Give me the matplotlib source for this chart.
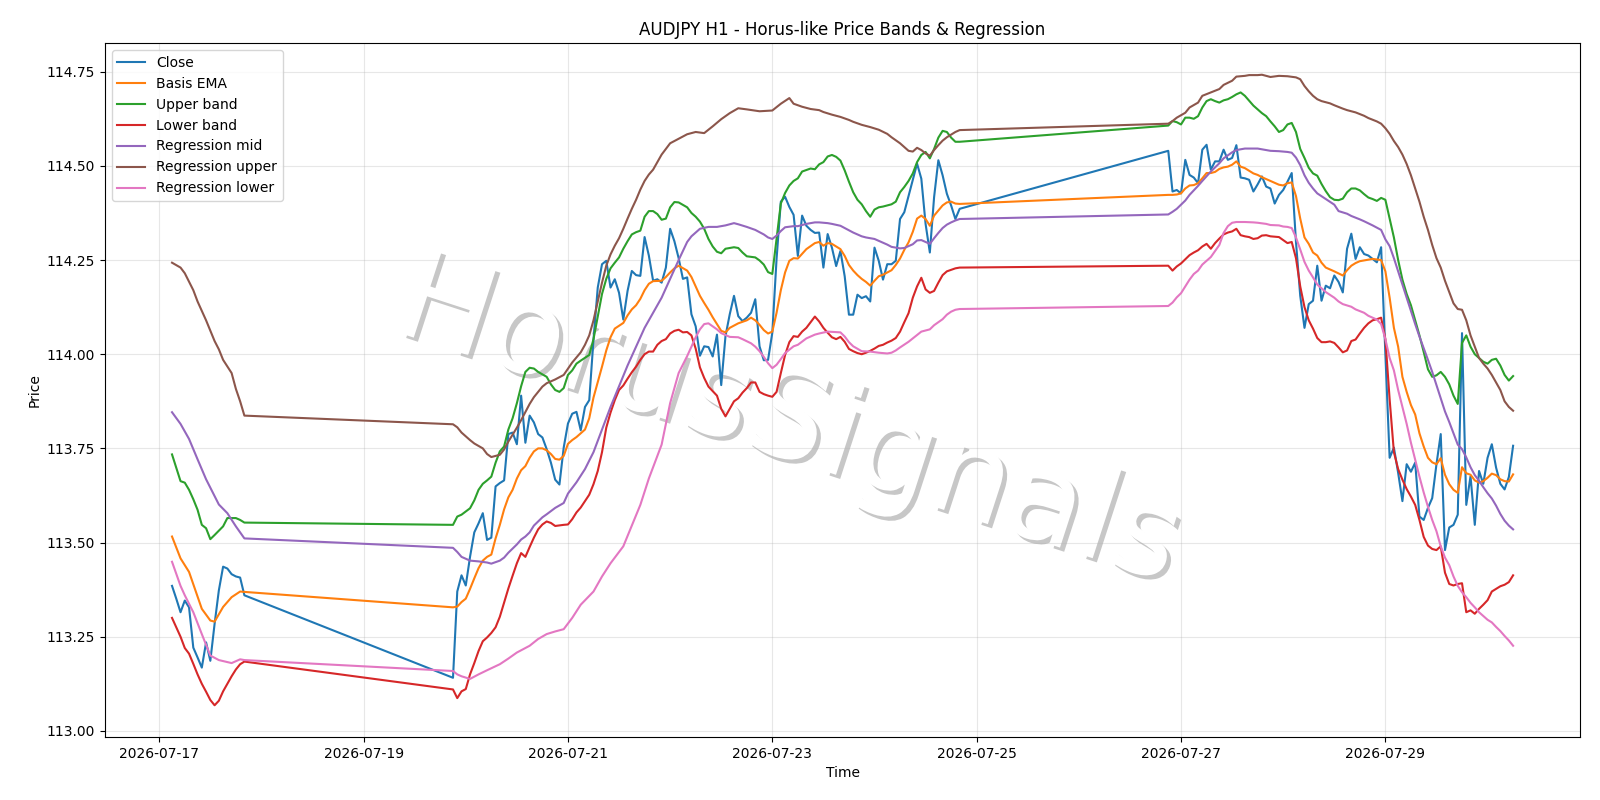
import matplotlib
matplotlib.use("Agg")
import matplotlib.pyplot as plt
import matplotlib.dates as mdates
import matplotlib.patheffects as pe
import pandas as pd

# ---------------- data ----------------
segment_starts = ["2026-07-17 03:00", "2026-07-19 21:00", "2026-07-26 21:00"]

close_seg1 = [113.385, 113.351, 113.315, 113.346, 113.328, 113.221, 113.195, 113.168, 113.235,
              113.186, 113.284, 113.373, 113.436, 113.431, 113.416, 113.410, 113.407, 113.360]

close_seg2 = [113.141, 113.370, 113.413, 113.386, 113.462, 113.527, 113.551, 113.578, 113.507, 113.513,
              113.649, 113.658, 113.665, 113.788, 113.792, 113.761, 113.890, 113.765, 113.837, 113.819,
              113.788, 113.779, 113.748, 113.712, 113.667, 113.654, 113.752, 113.816, 113.842, 113.847,
              113.798, 113.860, 113.878, 114.039, 114.177, 114.239, 114.248, 114.177, 114.199, 114.163,
              114.092, 114.168, 114.221, 114.210, 114.208, 114.311, 114.262, 114.195, 114.199, 114.190,
              114.230, 114.333, 114.300, 114.255, 114.200, 114.204, 114.106, 114.074, 113.996, 114.021,
              114.019, 113.994, 114.052, 113.918, 114.048, 114.106, 114.155, 114.101, 114.088, 114.097,
              114.110, 114.146, 114.021, 113.984, 113.985, 114.057, 114.253, 114.405, 114.418, 114.391,
              114.370, 114.261, 114.368, 114.341, 114.330, 114.322, 114.323, 114.230, 114.319, 114.283,
              114.234, 114.274, 114.207, 114.105, 114.105, 114.158, 114.149, 114.154, 114.140, 114.283,
              114.248, 114.198, 114.239, 114.239, 114.248, 114.359, 114.377, 114.420, 114.462, 114.506,
              114.466, 114.346, 114.270, 114.417, 114.515, 114.475, 114.426, 114.395, 114.359, 114.386]

close_seg3 = [114.540, 114.432, 114.436, 114.427, 114.516, 114.476, 114.469, 114.454, 114.543, 114.556,
              114.490, 114.512, 114.512, 114.543, 114.516, 114.521, 114.555, 114.469, 114.467, 114.463,
              114.432, 114.451, 114.472, 114.445, 114.440, 114.400, 114.423, 114.436, 114.458, 114.481,
              114.298, 114.155, 114.070, 114.133, 114.142, 114.235, 114.142, 114.182, 114.175, 114.209,
              114.192, 114.164, 114.280, 114.320, 114.253, 114.284, 114.266, 114.262, 114.253, 114.244,
              114.284, 114.000, 113.725, 113.752, 113.685, 113.610, 113.708, 113.688, 113.712, 113.569,
              113.560, 113.592, 113.618, 113.708, 113.788, 113.480, 113.540, 113.547, 113.574, 114.056,
              113.600, 113.676, 113.547, 113.690, 113.656, 113.725, 113.761, 113.699, 113.656, 113.641,
              113.674, 113.757]

# smooth series: hour offsets from 2026-07-17 00:00 and values
ema_h = [3, 5, 7, 10, 12, 13, 15, 17, 19, 20,
         69, 70, 71, 72, 73, 74, 75, 76, 77, 78, 79, 80, 81, 82, 83, 84, 85, 86, 87, 88, 89, 90, 91, 92, 93, 94, 95,
         96, 97, 98, 100, 101, 102, 104, 105, 106, 107, 109, 110, 111, 112, 113, 114, 115, 116, 118, 119, 120, 121, 122,
         124, 125, 126, 127, 128, 129, 130, 131, 132, 133, 134, 136, 138, 139, 140, 141, 142, 143, 144, 145, 146, 147,
         148, 149, 150, 152, 154, 155, 156, 157, 158, 160, 161, 162, 163, 164, 165, 166, 167, 168, 169, 170, 171, 172,
         173, 174, 175, 176, 177, 178, 179, 180, 181, 182, 184, 185, 186, 187, 188,
         237, 238, 239, 240, 241, 242, 243, 244, 245, 246, 247, 248, 249, 250, 251, 252, 253, 254, 255, 256, 257, 258,
         259, 260, 261, 262, 263, 264, 265, 266, 267, 268, 269, 270, 271, 272, 273, 274, 276, 278, 279, 280, 281, 282,
         284, 285, 287, 288, 289, 290, 291, 292, 293, 294, 295, 296, 297, 298, 299, 300, 301, 302, 303, 304, 305, 306,
         307, 308, 309, 310, 311, 312, 313, 314, 315, 316, 317, 318]
ema_v = [113.516, 113.458, 113.422, 113.324, 113.293, 113.290, 113.329, 113.355, 113.370, 113.369,
         113.328, 113.330, 113.342, 113.351, 113.377, 113.405, 113.432, 113.452, 113.462, 113.468, 113.511, 113.547,
         113.588, 113.620, 113.640, 113.670, 113.692, 113.703, 113.725, 113.742, 113.750, 113.750, 113.745, 113.735,
         113.722, 113.720, 113.730,
         113.762, 113.772, 113.780, 113.800, 113.830, 113.885, 113.967, 114.010, 114.045, 114.068, 114.083, 114.103,
         114.119, 114.130, 114.147, 114.170, 114.187, 114.194, 114.195, 114.205, 114.217, 114.228, 114.235,
         114.222, 114.205, 114.180, 114.155, 114.136, 114.118, 114.098, 114.080, 114.062, 114.058, 114.070, 114.082,
         114.090, 114.097, 114.090, 114.078, 114.064, 114.055, 114.060, 114.110, 114.170, 114.217,
         114.248, 114.255, 114.254, 114.279, 114.295, 114.298, 114.288, 114.295, 114.293, 114.279, 114.261, 114.237,
         114.222, 114.210, 114.200, 114.192, 114.182, 114.195, 114.207, 114.211, 114.217, 114.223,
         114.237, 114.254, 114.277, 114.297, 114.325, 114.360, 114.368, 114.359, 114.341, 114.368, 114.395, 114.403,
         114.405, 114.400, 114.399,
         114.423, 114.423, 114.424, 114.427, 114.440, 114.448, 114.449, 114.454, 114.467, 114.481, 114.481, 114.484,
         114.492, 114.496, 114.498, 114.503, 114.512, 114.498, 114.494, 114.487, 114.480, 114.476,
         114.470, 114.465, 114.460, 114.455, 114.450, 114.448, 114.454, 114.456, 114.420, 114.360, 114.310, 114.293,
         114.270, 114.262, 114.243, 114.230, 114.220, 114.209, 114.223, 114.235, 114.242, 114.247,
         114.251, 114.253, 114.250, 114.220, 114.150, 114.070, 114.020, 113.940, 113.900, 113.865, 113.840, 113.790,
         113.755, 113.725, 113.713, 113.708, 113.724, 113.680, 113.655, 113.640, 113.632, 113.700,
         113.684, 113.680, 113.665, 113.659, 113.663, 113.672, 113.683, 113.679, 113.668, 113.663, 113.662, 113.681]

upper_h = [3, 5, 6, 7, 8, 9, 10, 11, 12, 13, 15, 16, 18, 19, 20,
           69, 70, 71, 73, 74, 75, 76, 77, 78, 79, 80, 81, 82, 83, 84, 85, 86, 87, 88, 89, 91, 92, 93, 94,
           95, 96, 97, 98, 99, 101, 102, 103, 104, 105, 106, 107, 108, 109, 110, 111, 112, 113, 114, 115, 116, 117,
           118, 119, 120, 121, 122, 124, 125, 126, 127, 128, 129, 130, 131, 132, 133, 135, 136, 137, 138, 140, 141,
           142, 143, 144, 145, 146, 147, 148, 149, 150, 151, 153, 154, 155, 156, 157, 158, 159, 160, 161, 162, 163,
           164, 165, 166, 167, 168, 169, 170, 172, 173, 174, 175, 176, 177, 178, 179, 180, 181, 182, 183, 184, 185,
           186, 187, 188,
           237, 238, 239, 240, 241, 242, 243, 244, 245, 246, 247, 248, 249, 250, 251, 252, 253, 254, 255, 256, 257,
           258, 259, 260, 261, 262, 263, 264, 265, 266, 267, 268, 269, 270, 271, 272, 273, 274, 275, 276, 277, 278,
           279, 280, 281, 282, 283, 284, 285, 286, 287, 288, 289, 290, 291, 292, 293, 294, 295, 296, 297, 298, 299,
           300, 301, 302, 303, 304, 305, 306, 307, 308, 309, 310, 311, 312, 313, 314, 315, 316, 317, 318]
upper_v = [113.734, 113.663, 113.659, 113.640, 113.615, 113.587, 113.547, 113.538, 113.509, 113.520, 113.543,
           113.565, 113.565, 113.560, 113.553,
           113.547, 113.569, 113.574, 113.591, 113.612, 113.640, 113.656, 113.665, 113.675, 113.712, 113.742,
           113.755, 113.800, 113.830, 113.870, 113.915, 113.953, 113.964, 113.962, 113.953, 113.940, 113.920,
           113.905, 113.900,
           113.910, 113.945, 113.957, 113.975, 113.983, 113.998, 114.040, 114.100, 114.160, 114.200, 114.228,
           114.243, 114.257, 114.280, 114.300, 114.318, 114.324, 114.328, 114.365, 114.380, 114.380, 114.372,
           114.357, 114.360, 114.390, 114.404, 114.403, 114.390, 114.375, 114.365, 114.352, 114.333, 114.306,
           114.286, 114.272, 114.268, 114.280, 114.284, 114.282, 114.270, 114.260, 114.257, 114.249,
           114.238, 114.218, 114.213, 114.306, 114.400, 114.428, 114.448, 114.460, 114.467, 114.485, 114.493,
           114.491, 114.504, 114.510, 114.525, 114.529, 114.524, 114.514, 114.488, 114.458, 114.430,
           114.410, 114.398, 114.380, 114.365, 114.384, 114.390, 114.392, 114.398, 114.405, 114.430, 114.444,
           114.460, 114.480, 114.510, 114.529, 114.537, 114.520, 114.545, 114.575, 114.593, 114.590,
           114.575, 114.564, 114.564,
           114.607, 114.619, 114.616, 114.610, 114.628, 114.628, 114.625, 114.632, 114.655, 114.672, 114.677,
           114.672, 114.668, 114.674, 114.677, 114.683, 114.690, 114.695, 114.686, 114.673, 114.660,
           114.650, 114.640, 114.632, 114.618, 114.605, 114.590, 114.595, 114.610, 114.614, 114.590, 114.545,
           114.521, 114.495, 114.480, 114.474, 114.452, 114.433, 114.417, 114.410, 114.409, 114.413,
           114.430, 114.440, 114.440, 114.435, 114.425, 114.416, 114.412, 114.407, 114.415, 114.410, 114.360,
           114.310, 114.250, 114.198, 114.160, 114.130, 114.090, 114.050, 114.006, 113.960, 113.940,
           113.944, 113.953, 113.940, 113.920, 113.890, 113.868, 114.030, 114.050, 114.020, 114.000, 113.990,
           113.980, 113.975, 113.985, 113.988, 113.970, 113.945, 113.930, 113.942]

lower_h = [3, 4, 5, 6, 7, 8, 9, 10, 11, 12, 13, 14, 15, 16, 17, 18, 19, 20,
           69, 70, 71, 72, 73, 74, 75, 76, 77, 78, 79, 80, 81, 82, 83, 84, 85, 86, 87, 88, 89, 90, 91, 92, 93, 95,
           96, 97, 98, 99, 100, 101, 102, 103, 104, 105, 106, 107, 108, 109, 110, 111, 112, 113, 114, 115, 116, 117,
           118, 119, 120, 121, 122, 123, 124, 125, 126, 127, 128, 129, 130, 131, 132, 133, 134, 135, 136, 137, 138,
           139, 140, 141, 142, 143, 144, 145, 146, 147, 148, 149, 150, 151, 152, 153, 154, 155, 156, 157, 158, 159,
           160, 161, 162, 163, 164, 165, 166, 167, 168, 169, 170, 171, 172, 173, 174, 175, 176, 177, 178, 179, 180,
           181, 182, 183, 184, 185, 186, 187, 188,
           237, 238, 239, 240, 241, 242, 243, 244, 245, 246, 247, 248, 249, 250, 251, 252, 253, 254, 255, 256, 257,
           258, 259, 260, 261, 262, 263, 264, 265, 266, 267, 268, 269, 270, 271, 272, 273, 274, 275, 276, 277, 278,
           279, 280, 281, 282, 283, 284, 285, 286, 287, 288, 289, 290, 291, 292, 293, 294, 295, 296, 297, 298, 299,
           300, 301, 302, 303, 304, 305, 306, 307, 308, 309, 310, 311, 312, 313, 314, 315, 316, 317, 318]
lower_v = [113.300, 113.275, 113.250, 113.220, 113.205, 113.178, 113.150, 113.125, 113.104, 113.082, 113.068,
           113.080, 113.105, 113.125, 113.145, 113.163, 113.177, 113.184,
           113.110, 113.087, 113.105, 113.111, 113.150, 113.180, 113.212, 113.238, 113.248, 113.260, 113.275,
           113.303, 113.340, 113.378, 113.412, 113.445, 113.472, 113.462, 113.488, 113.513, 113.535, 113.548,
           113.556, 113.552, 113.544, 113.547,
           113.548, 113.562, 113.580, 113.593, 113.610, 113.627, 113.655, 113.690, 113.740, 113.805, 113.845,
           113.878, 113.905, 113.917, 113.935, 113.952, 113.967, 113.985, 114.000, 114.007, 114.007, 114.025,
           114.035, 114.040, 114.055, 114.062, 114.065, 114.058, 114.059, 114.050, 114.015, 113.965, 113.937,
           113.914, 113.902, 113.890, 113.855, 113.835, 113.855, 113.875, 113.883, 113.898, 113.910,
           113.925, 113.925, 113.900, 113.894, 113.890, 113.887, 113.900, 113.950, 113.998, 114.032, 114.048,
           114.046, 114.060, 114.070, 114.085, 114.100, 114.087, 114.070, 114.057, 114.045, 114.040,
           114.046, 114.033, 114.014, 114.008, 114.003, 114.000, 114.004, 114.009, 114.015, 114.022, 114.025,
           114.031, 114.036, 114.043, 114.060, 114.085, 114.109, 114.150, 114.180, 114.203, 114.172,
           114.163, 114.168, 114.190, 114.210, 114.220, 114.224, 114.228, 114.230,
           114.235, 114.222, 114.233, 114.241, 114.252, 114.263, 114.270, 114.276, 114.286, 114.293, 114.280,
           114.295, 114.307, 114.318, 114.323, 114.326, 114.333, 114.316, 114.313, 114.311, 114.306,
           114.308, 114.315, 114.316, 114.313, 114.312, 114.311, 114.303, 114.295, 114.298, 114.255, 114.180,
           114.125, 114.090, 114.068, 114.043, 114.032, 114.032, 114.034, 114.030, 114.018, 114.005,
           114.010, 114.035, 114.039, 114.055, 114.070, 114.082, 114.090, 114.093, 114.097, 114.040, 113.880,
           113.740, 113.695, 113.667, 113.642, 113.622, 113.600, 113.560, 113.515, 113.492, 113.483,
           113.480, 113.490, 113.420, 113.390, 113.386, 113.390, 113.392, 113.315, 113.320, 113.311, 113.324,
           113.335, 113.347, 113.370, 113.377, 113.384, 113.388, 113.395, 113.413]

regmid_h = [3, 5, 7, 9, 11, 13, 14, 16, 18, 20,
            69, 70, 71, 73, 75, 77, 78, 80, 81, 82, 84, 85, 86, 87, 88, 90, 91, 93, 95,
            96, 98, 100, 102, 104, 106, 108, 110, 112, 114, 116, 118, 120, 121, 122,
            124, 125, 127, 129, 131, 133, 135, 136, 138, 140, 141, 142, 143, 144, 145, 146, 147, 149, 150,
            152, 154, 155, 157, 158, 160, 161, 163, 165, 166, 168, 169, 171, 172, 174, 175, 176, 177,
            178, 179, 180, 181, 182, 183, 184, 185, 186, 187, 188,
            237, 238, 239, 241, 242, 244, 245, 247, 249, 250, 252, 253, 255, 258, 260, 261, 263,
            264, 265, 266, 267, 268, 269, 270, 271, 272, 274, 276, 277, 279, 280, 282, 283, 285, 286, 287, 288,
            289, 290, 291, 292, 293, 294, 295, 296, 297, 298, 299, 300, 301, 302, 303, 304, 305, 306, 307, 308,
            309, 310, 311, 312, 313, 314, 315, 316, 317, 318]
regmid_v = [113.846, 113.815, 113.775, 113.721, 113.668, 113.623, 113.601, 113.578, 113.543, 113.511,
            113.486, 113.475, 113.462, 113.452, 113.450, 113.447, 113.444, 113.452, 113.460, 113.473, 113.495,
            113.508, 113.516, 113.527, 113.545, 113.567, 113.575, 113.592, 113.605,
            113.630, 113.660, 113.695, 113.740, 113.800, 113.860, 113.915, 113.970, 114.020, 114.070, 114.110,
            114.150, 114.200, 114.225, 114.250,
            114.298, 114.313, 114.333, 114.338, 114.338, 114.342, 114.348, 114.345, 114.338, 114.330, 114.324,
            114.318, 114.310, 114.306, 114.315, 114.327, 114.337, 114.340, 114.340,
            114.346, 114.350, 114.350, 114.348, 114.346, 114.341, 114.335, 114.323, 114.313, 114.310, 114.306,
            114.301, 114.291, 114.285, 114.281, 114.282, 114.287, 114.292,
            114.302, 114.303, 114.298, 114.293, 114.308, 114.322, 114.335, 114.344, 114.350, 114.355, 114.359,
            114.371, 114.378, 114.386, 114.408, 114.423, 114.447, 114.460, 114.485, 114.507, 114.520, 114.536,
            114.542, 114.546, 114.546, 114.542, 114.540, 114.539,
            114.538, 114.537, 114.535, 114.522, 114.502, 114.475, 114.455, 114.440, 114.427, 114.412, 114.397,
            114.380, 114.373, 114.367, 114.358, 114.353, 114.342, 114.336, 114.330, 114.305,
            114.287, 114.255, 114.220, 114.185, 114.150, 114.115, 114.080, 114.047, 114.016, 113.985, 113.953,
            113.918, 113.883, 113.848, 113.820, 113.790, 113.760, 113.748, 113.726, 113.700,
            113.679, 113.664, 113.647, 113.631, 113.617, 113.598, 113.576, 113.558, 113.545, 113.535]

regup_h = [3, 5, 6, 8, 9, 11, 13, 14, 15, 17, 18, 19, 20,
           69, 70, 71, 73, 74, 76, 77, 78, 80, 81, 82, 84, 85, 87, 88, 90, 91, 93, 95, 97, 99, 100, 101, 102,
           103, 104, 105, 106, 107, 108, 109, 110, 111, 112, 113, 114, 115, 116, 118, 120, 122,
           124, 126, 128, 130, 132, 134, 136, 138, 141, 144, 146, 148, 149, 151, 153, 155, 156, 158, 160, 162,
           163, 165, 167, 169, 171, 172, 174,
           175, 176, 177, 178, 179, 180, 181, 182, 183, 184, 185, 186, 187, 188,
           237, 238, 239, 241, 242, 244, 245, 247, 249, 250, 252, 253, 255, 256, 258, 259, 261, 263, 265, 267,
           268, 269, 270, 271, 272, 273, 275, 276, 278, 279, 281, 283, 284, 286, 287, 288,
           289, 290, 291, 292, 293, 294, 295, 296, 297, 298, 299, 300, 301, 302, 303, 304, 305, 306, 307, 308,
           309, 310, 311, 312, 313, 314, 315, 316, 317, 318]
regup_v = [114.243, 114.230, 114.215, 114.170, 114.140, 114.090, 114.035, 114.013, 113.985, 113.950, 113.908,
           113.875, 113.837,
           113.814, 113.806, 113.792, 113.772, 113.763, 113.750, 113.735, 113.727, 113.733, 113.747, 113.768,
           113.805, 113.825, 113.868, 113.886, 113.914, 113.923, 113.933, 113.945, 113.978, 114.005, 114.025,
           114.050, 114.090,
           114.140, 114.190, 114.235, 114.265, 114.288, 114.308, 114.333, 114.360, 114.386, 114.410, 114.437,
           114.460, 114.477, 114.490, 114.530, 114.560, 114.572,
           114.584, 114.590, 114.587, 114.605, 114.624, 114.640, 114.653, 114.650, 114.645, 114.647, 114.665,
           114.680, 114.665, 114.657, 114.651, 114.648, 114.643, 114.636, 114.630, 114.622,
           114.617, 114.609, 114.603, 114.596, 114.585, 114.576, 114.560,
           114.550, 114.540, 114.538, 114.548, 114.542, 114.533, 114.527, 114.542, 114.555, 114.567, 114.576,
           114.583, 114.590, 114.595,
           114.612, 114.619, 114.628, 114.641, 114.655, 114.668, 114.686, 114.695, 114.704, 114.715,
           114.726, 114.737, 114.739, 114.741, 114.741, 114.742, 114.736, 114.739, 114.738, 114.735,
           114.730, 114.712, 114.698, 114.686, 114.677, 114.672, 114.666, 114.661, 114.652, 114.648,
           114.642, 114.633, 114.627, 114.618, 114.612, 114.600,
           114.585, 114.566, 114.550, 114.530, 114.505, 114.475, 114.440, 114.405, 114.365, 114.330,
           114.290, 114.255, 114.230, 114.195, 114.165, 114.135, 114.120, 114.118, 114.090, 114.050,
           114.020, 113.990, 113.975, 113.962, 113.945, 113.925, 113.905, 113.875, 113.860, 113.850]

reglo_h = [3, 5, 6, 8, 10, 12, 14, 17, 19, 20,
           69, 70, 71, 73, 75, 77, 80, 82, 84, 87, 89, 91, 93, 95, 97, 99, 102, 104, 106, 109, 111, 113, 115,
           118, 120, 122, 124, 126, 127, 128, 129, 131, 132, 134, 136, 137, 139, 140, 141, 142, 143, 144, 145,
           146, 147, 149, 150, 152, 154, 155, 157, 160, 161, 162, 163, 165, 167, 169, 171, 172, 173, 174, 176,
           177, 179, 181, 182, 184, 185, 186, 187, 188,
           237, 238, 239, 240, 241, 242, 243, 244, 245, 247, 249, 250, 251, 252, 253, 255, 257, 258, 260, 261,
           263, 264, 265, 266, 267, 268, 269, 270, 271, 272, 274, 276, 277, 278, 280, 281, 283, 284, 286, 287,
           288, 289, 290, 291, 292, 293, 294, 295, 296, 297, 298, 299, 300, 301, 302, 303, 304, 305, 306, 307,
           308, 309, 310, 311, 312, 313, 314, 315, 316, 317, 318]
reglo_v = [113.449, 113.385, 113.360, 113.315, 113.257, 113.200, 113.188, 113.180, 113.190, 113.188,
           113.159, 113.150, 113.145, 113.138, 113.150, 113.161, 113.177, 113.192, 113.208, 113.226, 113.244,
           113.257, 113.264, 113.270, 113.300, 113.335, 113.370, 113.410, 113.445, 113.490, 113.545, 113.600,
           113.670, 113.760, 113.870, 113.950, 113.995, 114.045, 114.066, 114.080, 114.082, 114.066, 114.056,
           114.046, 114.045, 114.040, 114.029, 114.020, 114.008, 113.993, 113.976, 113.963, 113.972,
           113.987, 114.003, 114.021, 114.025, 114.042, 114.052, 114.055, 114.060, 114.058, 114.047, 114.032,
           114.021, 114.008, 114.007, 114.004, 114.002, 114.004, 114.010, 114.018, 114.033,
           114.042, 114.060, 114.066, 114.077, 114.093, 114.105, 114.113, 114.118, 114.120,
           114.128, 114.137, 114.151, 114.162, 114.180, 114.198, 114.213, 114.222, 114.238, 114.258, 114.290,
           114.322, 114.340, 114.349, 114.351, 114.351, 114.350, 114.349, 114.346, 114.343,
           114.342, 114.339, 114.338, 114.335, 114.310, 114.278, 114.245, 114.222, 114.204, 114.185, 114.165,
           114.150, 114.140, 114.133, 114.126, 114.119, 114.110, 114.102, 114.092, 114.080,
           114.040, 113.990, 113.957, 113.905, 113.860, 113.815, 113.765, 113.720, 113.675, 113.633, 113.595,
           113.560, 113.530, 113.490, 113.460, 113.440, 113.410, 113.385, 113.368, 113.355,
           113.340, 113.328, 113.315, 113.305, 113.295, 113.288, 113.276, 113.265, 113.252, 113.240, 113.226]

tick_labels = ["2026-07-17", "2026-07-19", "2026-07-21", "2026-07-23",
               "2026-07-25", "2026-07-27", "2026-07-29"]

series_labels = ["Close", "Basis EMA", "Upper band", "Lower band",
                 "Regression mid", "Regression upper", "Regression lower"]

# ---------------- build time axes ----------------
base = pd.Timestamp("2026-07-17 00:00")


def hours_to_time(hours):
    return base + pd.to_timedelta(hours, unit="h")


close_t = []
close_v = []
for start, seg in zip(segment_starts, [close_seg1, close_seg2, close_seg3]):
    close_t.extend(pd.date_range(start, periods=len(seg), freq="h"))
    close_v.extend(seg)

# ---------------- plot ----------------
fig = plt.figure(figsize=(16, 8), dpi=100)
ax = fig.add_axes([0.0656, 0.079, 0.922, 0.867])

colors = ["#1f77b4", "#ff7f0e", "#2ca02c", "#d62728", "#9467bd", "#8c564b", "#e377c2"]

ax.plot(close_t, close_v, color=colors[0], lw=1.5, label=series_labels[0], zorder=3)
pairs = [(ema_h, ema_v), (upper_h, upper_v), (lower_h, lower_v),
         (regmid_h, regmid_v), (regup_h, regup_v), (reglo_h, reglo_v)]
for (hh, vv), c, lab in zip(pairs, colors[1:], series_labels[1:]):
    n = min(len(hh), len(vv))
    ax.plot(hours_to_time(hh[:n]), vv[:n], color=c, lw=1.5, label=lab, zorder=3)

ax.set_title("AUDJPY H1 - Horus-like Price Bands & Regression", fontsize=12)
ax.set_xlabel("Time")
ax.set_ylabel("Price")
ax.grid(True, alpha=0.3)
ax.legend(loc="upper left")

ax.set_xticks(pd.to_datetime(tick_labels))
ax.xaxis.set_major_formatter(mdates.DateFormatter("%Y-%m-%d"))

# watermark: white text with a soft grey drop shadow, behind the lines
ax.text(0.493, 0.471, "HorusSignals", transform=fig.transFigure, fontsize=90, color="white",
        rotation=-18, ha="center", va="center", zorder=1, clip_on=False,
        path_effects=[pe.SimplePatchShadow(offset=(3, -3), shadow_rgbFace=(0.45, 0.45, 0.45), alpha=0.4),
                      pe.Normal()])

fig.savefig("out.png", dpi=100)
